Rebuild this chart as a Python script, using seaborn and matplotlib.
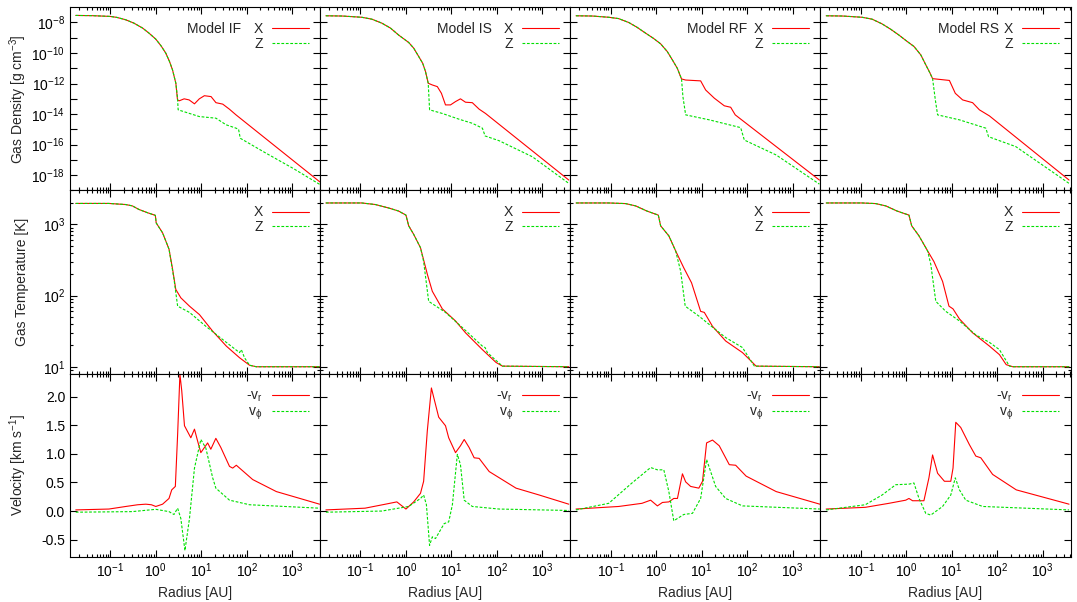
import numpy as np
import matplotlib
matplotlib.use("Agg")
import matplotlib.pyplot as plt
import matplotlib.ticker as mticker
import seaborn as sns

# Values (radius in AU)
models = ["IF", "IS", "RF", "RS"]
x_major_ticks = [0.1, 1, 10, 100, 1000]

# ---- gas density [g cm^-3] ----
# inner part is the same for X and Z
r_dens_IF_in = [0.0174, 0.04, 0.1, 0.14, 0.219, 0.33, 0.513, 0.71, 1.0, 1.3, 1.66, 2.0, 2.33, 2.76]
dens_IF_in = [2.9e-8, 2.8e-8, 2.5e-8, 2.15e-8, 1.5e-8, 9.1e-9, 4.3e-9, 2e-9, 8.1e-10, 3e-10, 9.8e-11, 2.8e-11, 7.9e-12, 1.05e-12]
r_dens_IF_X = r_dens_IF_in + [3.0, 3.27, 4.2, 5.4, 7.08, 9.05, 11.7, 16.4, 21, 29.6, 41.5, 58, 4000]
dens_IF_X = dens_IF_in + [8.5e-14, 7.4e-14, 1e-13, 8.5e-14, 4.7e-14, 1e-13, 1.6e-13, 1.4e-13, 5.6e-14, 4.5e-14, 2.1e-14, 8.9e-15, 3.7e-19]
r_dens_IF_Z = r_dens_IF_in + [3.0, 3.1, 9.05, 21, 35, 58, 66, 72, 268, 1040, 4000]
dens_IF_Z = dens_IF_in + [1.2e-13, 1.9e-14, 6.9e-15, 5.4e-15, 2e-15, 1.2e-15, 1.0e-15, 2.6e-16, 2.7e-17, 2.8e-18, 2.5e-19]

r_dens_IS_in = [0.0174, 0.04, 0.107, 0.178, 0.295, 0.457, 0.692, 1.15, 1.48, 1.91, 2.34, 2.69, 3.09]
dens_IS_in = [2.75e-8, 2.65e-8, 2.2e-8, 1.65e-8, 9.1e-9, 4.3e-9, 1.5e-9, 4.9e-10, 2.1e-10, 5.9e-11, 2.1e-11, 6.2e-12, 1.05e-12]
r_dens_IS_X = r_dens_IS_in + [3.8, 4.9, 6.03, 7.41, 9.55, 12.3, 15.8, 20.4, 28.8, 40.7, 56.2, 3800]
dens_IS_X = dens_IS_in + [8.1e-13, 6.3e-13, 2.3e-13, 4e-14, 4e-14, 6.6e-14, 1e-13, 6e-14, 5.6e-14, 2.1e-14, 1.1e-14, 4.8e-19]
r_dens_IS_Z = r_dens_IS_in + [3.31, 6.31, 14.8, 28.8, 47.9, 55, 112, 603, 3800]
dens_IS_Z = dens_IS_in + [1.9e-14, 1.1e-14, 4.6e-15, 2.5e-15, 1.2e-15, 3.7e-16, 1.8e-16, 1.6e-17, 2.9e-19]

r_dens_RF_in = [0.0174, 0.04, 0.091, 0.15, 0.251, 0.38, 0.589, 0.87, 1.26, 1.76, 2.29, 2.93, 3.63]
dens_RF_in = [2.75e-8, 2.65e-8, 2.2e-8, 1.8e-8, 1e-8, 4.9e-9, 2e-9, 9.3e-10, 4e-10, 1.26e-10, 3.5e-11, 1e-11, 2e-12]
r_dens_RF_X = r_dens_RF_in + [4.47, 9.55, 12.3, 19.1, 31.6, 43.7, 55, 3890]
dens_RF_X = dens_RF_in + [1.7e-12, 1.5e-12, 3.8e-13, 1.1e-13, 3.5e-14, 2.8e-14, 8.9e-15, 4.8e-19]
r_dens_RF_Z = r_dens_RF_in + [3.89, 4.47, 14.8, 72.4, 87.1, 437, 3890]
dens_RF_Z = dens_RF_in + [1.4e-13, 8.9e-15, 4.2e-15, 1.3e-15, 2e-16, 2.1e-17, 2.6e-19]

r_dens_RS_in = [0.0174, 0.04, 0.107, 0.178, 0.295, 0.457, 0.692, 1.06, 1.48, 2.09, 2.69, 3.3, 3.8]
dens_RS_in = [2.75e-8, 2.65e-8, 2.2e-8, 1.65e-8, 8.1e-9, 3.6e-9, 1.5e-9, 5.6e-10, 2.7e-10, 7.6e-11, 1.7e-11, 5.2e-12, 2.1e-12]
r_dens_RS_X = r_dens_RS_in + [8.91, 12.0, 17.4, 28.8, 40.7, 67.6, 3800]
dens_RS_X = dens_RS_in + [1.6e-12, 2.3e-13, 8.5e-14, 5.6e-14, 1.9e-14, 7.6e-15, 4.8e-19]
r_dens_RS_Z = r_dens_RS_in + [4.37, 4.9, 14.8, 56.2, 64.6, 257, 3800]
dens_RS_Z = dens_RS_in + [8.5e-14, 8.9e-15, 4.2e-15, 1.2e-15, 3.3e-16, 7.4e-17, 2.9e-19]

# ---- gas temperature [K] ----
r_temp_IF_in = [0.0174, 0.093, 0.219, 0.305, 0.427, 0.655, 0.977, 1.02, 1.41, 1.95]
temp_IF_in = [1970, 1970, 1900, 1820, 1620, 1460, 1340, 1050, 760, 450]
r_temp_IF_X = r_temp_IF_in + [2.34, 2.75, 3.55, 5.5, 9.12, 17.8, 35.5, 69.2, 115, 162, 4000]
temp_IF_X = temp_IF_in + [235, 122, 93, 71, 54, 31.6, 19.5, 13.4, 10.5, 10, 10]
r_temp_IF_Z = r_temp_IF_in + [2.51, 3.02, 5.5, 12.6, 35.5, 69.2, 75.9, 89.1, 115, 162, 4000]
temp_IF_Z = temp_IF_in + [170, 71, 58, 37, 22, 15.8, 17.4, 13.4, 10.5, 10, 10]

r_temp_IS_in = [0.0174, 0.107, 0.214, 0.417, 0.69, 1.0, 1.15, 1.48, 2.09]
temp_IS_in = [2000, 2000, 1900, 1700, 1540, 1350, 955, 725, 470]
r_temp_IS_X = r_temp_IS_in + [2.95, 3.8, 6.31, 12.3, 20.4, 47.9, 95.5, 132, 3800]
temp_IS_X = temp_IS_in + [200, 115, 65, 44, 30, 17.4, 11.5, 10.2, 10]
r_temp_IS_Z = r_temp_IS_in + [2.45, 3.16, 7.41, 17.4, 47.9, 55, 61.7, 132, 3800]
temp_IS_Z = temp_IS_in + [300, 83, 58, 35.5, 19.5, 18.6, 15.8, 10.2, 10]

r_temp_RF_in = [0.0174, 0.091, 0.214, 0.355, 0.63, 1.12, 1.26, 1.91, 2.69]
temp_RF_in = [2000, 2000, 1960, 1820, 1540, 1350, 955, 690, 425]
r_temp_RF_X = r_temp_RF_in + [4.07, 6.03, 9.55, 11.5, 17.4, 33.9, 79.4, 123, 158, 3890]
temp_RF_X = temp_RF_in + [245, 151, 60, 58, 37, 23, 15.8, 12, 10.2, 10]
r_temp_RF_Z = r_temp_RF_in + [3.47, 4.37, 8.91, 17.4, 33.9, 79.4, 93.3, 145, 3890]
temp_RF_Z = temp_RF_in + [220, 71, 51, 36, 25.7, 18.6, 15.8, 10.2, 10]

r_temp_RS_in = [0.0174, 0.107, 0.214, 0.355, 0.63, 1.15, 1.32, 1.91, 2.95]
temp_RS_in = [2000, 2000, 1960, 1820, 1540, 1350, 955, 690, 425]
r_temp_RS_X = r_temp_RS_in + [4.07, 6.31, 8.71, 10.7, 14.8, 28.8, 67.6, 112, 158, 219, 3800]
temp_RS_X = temp_RS_in + [300, 158, 71, 65, 47, 30, 19.5, 14.8, 10.7, 10, 10]
r_temp_RS_Z = r_temp_RS_in + [3.47, 4.47, 7.41, 14.8, 33.9, 67.6, 112, 186, 219, 3800]
temp_RS_Z = temp_RS_in + [275, 83, 60, 44, 28, 22, 17.4, 10.2, 10, 10]

# ---- velocity [km/s] ----
r_vr_IF = [0.0174, 0.093, 0.219, 0.4, 0.603, 0.8, 1.0, 1.41, 1.95, 2.24, 2.69, 3.02, 3.39, 3.72, 4.27, 5.89, 7.08, 8.32, 9.77, 13.8, 16.2, 20.9, 26.9, 41.7, 49, 58.9, 135, 447, 3980]
vr_IF = [0.02, 0.035, 0.08, 0.11, 0.12, 0.11, 0.08, 0.12, 0.22, 0.37, 0.43, 1.34, 2.39, 2.1, 1.49, 1.28, 1.43, 1.22, 1.02, 1.19, 1.08, 1.27, 1.11, 0.78, 0.75, 0.8, 0.55, 0.34, 0.12]
r_vphi_IF = [0.0174, 0.302, 1.0, 1.95, 2.51, 3.02, 3.55, 4.37, 5.5, 7.08, 9.77, 12.6, 17.8, 20.9, 41.7, 115, 3980]
vphi_IF = [-0.02, -0.01, 0.03, -0.01, -0.06, 0.05, -0.13, -0.69, -0.13, 0.75, 1.25, 1.1, 0.58, 0.4, 0.19, 0.11, 0.05]

r_vr_IS = [0.0174, 0.126, 0.355, 0.631, 1.0, 1.48, 2.09, 2.45, 2.95, 3.63, 4.07, 5.25, 7.41, 8.71, 12.3, 15.8, 19.1, 24.5, 31.6, 40.7, 67.6, 263, 851, 3800]
vr_IS = [0.02, 0.05, 0.12, 0.16, 0.035, 0.16, 0.31, 0.52, 1.4, 2.15, 1.99, 1.64, 1.49, 1.28, 1.02, 1.14, 1.25, 1.11, 0.93, 0.92, 0.69, 0.4, 0.28, 0.12]
r_vphi_IS = [0.0174, 0.295, 1.15, 2.09, 2.45, 2.82, 3.31, 3.8, 4.47, 6.92, 8.71, 10.5, 13.5, 15.8, 19.1, 28.8, 112, 3800]
vphi_IS = [-0.02, 0.0, 0.08, 0.22, 0.28, 0.11, -0.6, -0.45, -0.48, -0.22, -0.19, 0.11, 0.99, 0.81, 0.19, 0.08, 0.035, 0.01]

r_vr_RF = [0.0174, 0.151, 0.49, 0.759, 1.07, 1.38, 1.91, 2.45, 2.95, 3.8, 4.47, 5.75, 8.71, 10.5, 12.9, 17.4, 24.5, 40.7, 56.2, 95.5, 437, 3980]
vr_RF = [0.035, 0.08, 0.135, 0.19, 0.09, 0.15, 0.16, 0.22, 0.22, 0.65, 0.51, 0.43, 0.4, 0.52, 1.19, 1.24, 1.14, 0.81, 0.8, 0.61, 0.34, 0.12]
r_vphi_RF = [0.0174, 0.091, 0.295, 0.759, 1.07, 1.48, 1.91, 2.45, 4.07, 6.31, 9.55, 12.9, 20.4, 33.9, 79.4, 3980]
vphi_RF = [0.02, 0.135, 0.49, 0.76, 0.72, 0.72, 0.34, -0.17, -0.06, -0.04, 0.22, 0.9, 0.43, 0.22, 0.09, 0.035]

r_vr_RS = [0.0174, 0.126, 0.417, 0.977, 1.15, 1.38, 2.45, 3.16, 3.8, 4.9, 6.92, 9.55, 10.7, 12.3, 15.8, 24.5, 33.9, 43.7, 79.4, 263, 3800]
vr_RS = [0.035, 0.065, 0.135, 0.19, 0.22, 0.18, 0.18, 0.58, 0.98, 0.66, 0.52, 0.52, 0.75, 1.55, 1.46, 1.16, 0.96, 0.93, 0.64, 0.37, 0.12]
r_vphi_RS = [0.0174, 0.126, 0.295, 0.589, 1.15, 1.48, 1.91, 2.69, 3.47, 6.31, 9.55, 12.0, 14.8, 20.4, 47.9, 3800]
vphi_RS = [0.02, 0.11, 0.28, 0.46, 0.47, 0.49, 0.22, -0.04, -0.07, 0.08, 0.28, 0.58, 0.37, 0.19, 0.08, 0.02]

# grouping per panel
density = {
    "IF": (r_dens_IF_X, dens_IF_X, r_dens_IF_Z, dens_IF_Z),
    "IS": (r_dens_IS_X, dens_IS_X, r_dens_IS_Z, dens_IS_Z),
    "RF": (r_dens_RF_X, dens_RF_X, r_dens_RF_Z, dens_RF_Z),
    "RS": (r_dens_RS_X, dens_RS_X, r_dens_RS_Z, dens_RS_Z),
}
temperature = {
    "IF": (r_temp_IF_X, temp_IF_X, r_temp_IF_Z, temp_IF_Z),
    "IS": (r_temp_IS_X, temp_IS_X, r_temp_IS_Z, temp_IS_Z),
    "RF": (r_temp_RF_X, temp_RF_X, r_temp_RF_Z, temp_RF_Z),
    "RS": (r_temp_RS_X, temp_RS_X, r_temp_RS_Z, temp_RS_Z),
}
velocity = {
    "IF": (r_vr_IF, vr_IF, r_vphi_IF, vphi_IF),
    "IS": (r_vr_IS, vr_IS, r_vphi_IS, vphi_IS),
    "RF": (r_vr_RF, vr_RF, r_vphi_RF, vphi_RF),
    "RS": (r_vr_RS, vr_RS, r_vphi_RS, vphi_RS),
}
rows = [density, temperature, velocity]
row_labels = [("X", "Z"), ("X", "Z"), ("-v$_r$", "v$_\\phi$")]
ylabels = ["Gas Density [g cm$^{-3}$]", "Gas Temperature [K]", "Velocity [km s$^{-1}$]"]

# style
sns.set_style("ticks")
plt.rcParams["font.family"] = ["Liberation Sans", "DejaVu Sans"]
plt.rcParams["mathtext.fontset"] = "custom"
plt.rcParams["mathtext.rm"] = "Liberation Sans"
plt.rcParams["mathtext.it"] = "Liberation Sans:italic"
plt.rcParams["mathtext.default"] = "regular"
plt.rcParams["axes.unicode_minus"] = False
plt.rcParams["font.size"] = 10
plt.rcParams["axes.edgecolor"] = "black"
plt.rcParams["axes.linewidth"] = 0.8
plt.rcParams["xtick.color"] = "black"
plt.rcParams["ytick.color"] = "black"

red = "#ff0000"
green = "#00e000"

fig, axes = plt.subplots(3, 4, figsize=(10.77, 6.02), dpi=100, sharex=True, sharey="row")
fig.subplots_adjust(left=0.065, right=0.994, top=0.988, bottom=0.075, wspace=0, hspace=0)

model_text_x = [0.683, 0.686, 0.706, 0.713]

for i, data in enumerate(rows):
    for j, m in enumerate(models):
        ax = axes[i, j]
        ax.set_xscale("log")
        if i < 2:
            ax.set_yscale("log")
        x1, y1, x2, y2 = data[m]
        sns.lineplot(x=x1, y=y1, ax=ax, color=red, lw=0.8, estimator=None, sort=False)
        l1 = ax.lines[-1]
        sns.lineplot(x=x2, y=y2, ax=ax, color=green, lw=0.8, estimator=None, sort=False)
        l2 = ax.lines[-1]
        l2.set_dashes([2.5, 1.5])
        ax.legend([l1, l2], row_labels[i], loc="upper right", bbox_to_anchor=(0.954, 0.918),
                  frameon=False, markerfirst=False, borderpad=0, borderaxespad=0,
                  handlelength=2.66, handletextpad=0.65, labelspacing=0.05, fontsize=10)
        if i == 0:
            ax.text(model_text_x[j], 0.88, "Model " + m, transform=ax.transAxes,
                    ha="right", va="center", fontsize=10)
        ax.tick_params(which="both", direction="in", top=True, right=True, width=0.8)
        ax.tick_params(which="major", length=5)
        ax.tick_params(which="minor", length=2.5)
        if i == 2:
            ax.set_xlabel("Radius [AU]")
        if j == 0:
            ax.set_ylabel(ylabels[i])
            ax.yaxis.set_label_coords(-0.163, 0.5)

ax0 = axes[0, 0]
ax0.set_xlim(0.013, 4100)
ax0.xaxis.set_major_locator(mticker.FixedLocator(x_major_ticks))
ax0.xaxis.set_major_formatter(mticker.LogFormatterSciNotation())
ax0.xaxis.set_minor_locator(mticker.LogLocator(base=10, subs=np.arange(2, 10), numticks=12))
ax0.xaxis.set_minor_formatter(mticker.NullFormatter())

# density axis: ticks every decade, labels on even exponents
ax0.set_ylim(1e-19, 1e-7)
dec_ticks = [10.0 ** k for k in range(-18, -7)]
ax0.yaxis.set_major_locator(mticker.FixedLocator(dec_ticks))
ax0.yaxis.set_minor_locator(mticker.NullLocator())
ax0.yaxis.set_major_formatter(mticker.FuncFormatter(
    lambda v, p: r"$10^{%d}$" % round(np.log10(v)) if round(np.log10(v)) % 2 == 0 else ""))

axes[1, 0].set_ylim(8, 3000)
axes[1, 0].yaxis.set_minor_formatter(mticker.NullFormatter())

axes[2, 0].set_ylim(-0.8, 2.4)
axes[2, 0].yaxis.set_major_locator(mticker.FixedLocator([-0.5, 0.0, 0.5, 1.0, 1.5, 2.0]))
axes[2, 0].yaxis.set_minor_locator(mticker.NullLocator())
axes[2, 0].yaxis.set_major_formatter(mticker.FormatStrFormatter("%.1f"))

for ax in axes.flat:
    for s in ax.spines.values():
        s.set_visible(True)
        s.set_color("black")

fig.savefig("out.png", dpi=100)
